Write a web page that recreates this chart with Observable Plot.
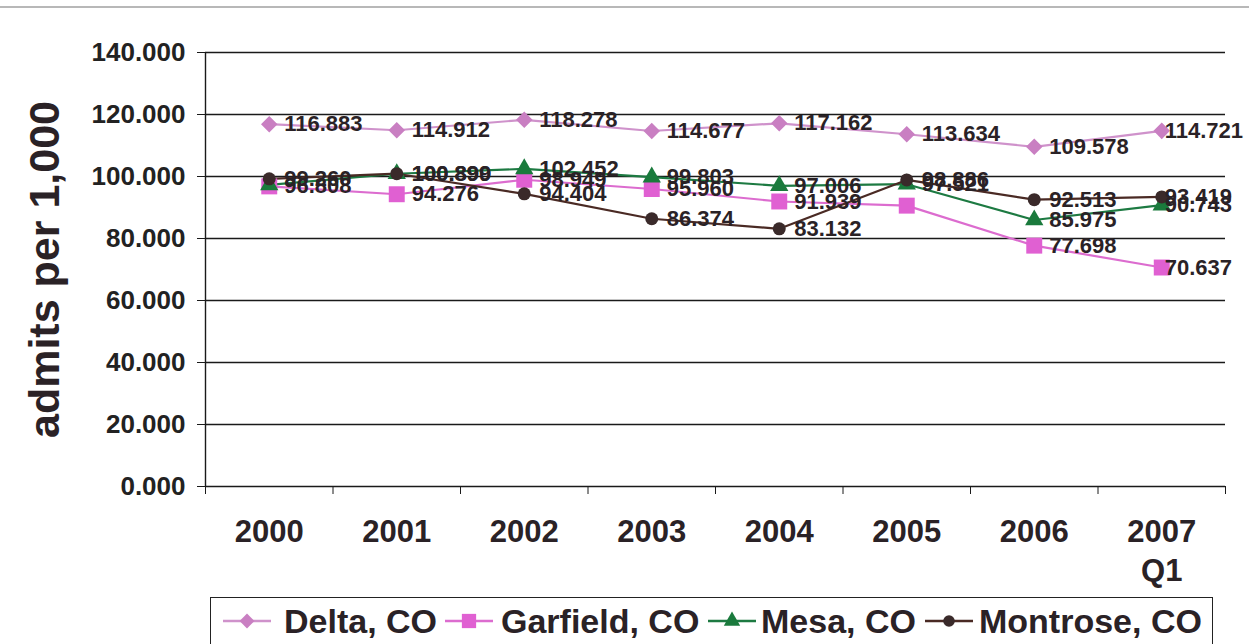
<!DOCTYPE html>
<html>
<head>
<meta charset="utf-8">
<script src="https://cdn.jsdelivr.net/npm/d3@7"></script>
<script src="https://cdn.jsdelivr.net/npm/@observablehq/plot@0.6"></script>
<style>
  html, body { margin: 0; padding: 0; background: #fff; }
  #wrap { position: relative; width: 1249px; height: 644px; overflow: hidden; font-family: "Liberation Sans", Arial, sans-serif; }
  #topline { position: absolute; left: 0; top: 6px; width: 1249px; height: 2px; background: #b8b8b8; }
  #chart { position: absolute; left: 0; top: 0; }
  #legend { position: absolute; left: 210px; top: 597px; width: 1003px; height: 60px; border: 1.5px solid #222; box-sizing: border-box; }
  .item { position: absolute; top: 0; height: 46px; display: flex; align-items: center; }
  .item span { font-family: "Liberation Sans", Arial, sans-serif; font-weight: bold; font-size: 34px; color: #2a2226; white-space: nowrap; }
</style>
</head>
<body>
<div id="wrap">
  <div id="topline"></div>
  <div id="chart"></div>
  <div id="legend"></div>
</div>
<script>
// ---- data ----
const years = ["2000", "2001", "2002", "2003", "2004", "2005", "2006", "2007\nQ1"];
const seriesNames = ["Delta, CO", "Garfield, CO", "Mesa, CO", "Montrose, CO"];
const delta    = [116.883, 114.912, 118.278, 114.677, 117.162, 113.634, 109.578, 114.721];
const garfield = [96.808, 94.276, 98.949, 95.960, 91.939, 90.600, 77.698, 70.637];
const mesa     = [97.300, 100.890, 102.452, 99.803, 97.006, 97.521, 85.975, 90.743];
const montrose = [99.260, 100.899, 94.404, 86.374, 83.132, 98.886, 92.513, 93.419];
const yTicks = [0, 20, 40, 60, 80, 100, 120, 140];
// labels not visible in the reference (hidden under other labels)
const hiddenLabels = [["Garfield, CO", 5], ["Mesa, CO", 0]];

const lineColors = ["#cf92cb", "#dc6ccf", "#1d7a42", "#4a2a24"];
const markColors = ["#c97fc2", "#e060d2", "#1a7a3c", "#3a2a2a"];

const diamondSym = {
  draw(ctx, size) {
    const h = Math.sqrt(size / 2);
    ctx.moveTo(0, -h); ctx.lineTo(h, 0); ctx.lineTo(0, h); ctx.lineTo(-h, 0); ctx.closePath();
  }
};
const symbols = [diamondSym, d3.symbolSquare, d3.symbolTriangle, d3.symbolCircle];
const sizes = [6.6, 9.0, 6.8, 6.5];

const values = [delta, garfield, mesa, montrose];
const rows = seriesNames.flatMap((s, k) => values[k].map((v, i) => ({
  series: s, k, i, value: v,
  label: hiddenLabels.some(([hs, hi]) => hs === s && hi === i) ? "" : d3.format(".3f")(v)
})));

const fmt = d3.format(".3f");

const chart = Plot.plot({
  width: 1249,
  height: 590,
  marginLeft: 205,
  marginRight: 24,
  marginTop: 52,
  marginBottom: 104,
  style: { fontFamily: "'Liberation Sans', Arial, sans-serif", color: "#222", background: "transparent" },
  x: { type: "linear", domain: [-0.5, 7.5], axis: null },
  y: { domain: [0, 140], axis: null },
  color: { domain: seriesNames, range: lineColors },
  marks: [
    Plot.ruleY(yTicks, { stroke: "#1a1a1a", strokeWidth: 1.4 }),
    Plot.ruleX([-0.5], { stroke: "#1a1a1a", strokeWidth: 1.4 }),
    Plot.axisY({ ticks: yTicks, tickFormat: fmt, tickSize: 8, tickPadding: 12, fontSize: 26, fontWeight: "bold", label: null, stroke: "#1a1a1a" }),
    Plot.axisX({ ticks: d3.range(-0.5, 8, 1), tickSize: 8, tickFormat: () => "", label: null, stroke: "#1a1a1a" }),
    Plot.text(years, { x: (d, i) => i, y: () => 0, text: d => d, dy: 28, lineAnchor: "top", lineHeight: 1.25, fontSize: 31, fontWeight: "bold", fill: "#2a2226" }),
    Plot.text(["admits per 1,000"], { frameAnchor: "left", textAnchor: "middle", dx: -160, rotate: -90, fontSize: 43, fontWeight: "bold", fill: "#2a2226" }),
    Plot.line(rows, { x: "i", y: "value", z: "series", stroke: "series", strokeWidth: 2.2 }),
    ...seriesNames.map((s, k) => Plot.dot(rows.filter(d => d.k === k), {
      x: "i", y: "value", symbol: symbols[k], r: sizes[k], fill: markColors[k], stroke: "none"
    })),
    Plot.text(rows.filter(d => d.i < 7), { x: "i", y: "value", text: "label", dx: 15, textAnchor: "start", fontSize: 22, fontWeight: "bold", fill: "#2a2226" }),
    Plot.text(rows.filter(d => d.i === 7), { x: "i", y: "value", text: "label", dx: 3, textAnchor: "start", fontSize: 22, fontWeight: "bold", fill: "#2a2226" })
  ]
});
document.getElementById("chart").appendChild(chart);

// ---- legend ----
const legendX = [[10, 73], [232, 290], [495, 550], [712, 768]];
const legend = document.getElementById("legend");
seriesNames.forEach((s, k) => {
  const [sx, tx] = legendX[k];
  const sw = d3.create("svg").attr("width", 52).attr("height", 46)
    .style("position", "absolute").style("left", sx + "px").style("top", "0px");
  sw.append("line").attr("x1", 2).attr("x2", 50).attr("y1", 23).attr("y2", 23)
    .attr("stroke", lineColors[k]).attr("stroke-width", 2.5);
  sw.append("path").attr("transform", "translate(26,23)")
    .attr("d", d3.symbol(symbols[k], Math.PI * sizes[k] * sizes[k] * 0.8)())
    .attr("fill", markColors[k]);
  legend.appendChild(sw.node());
  const it = document.createElement("div");
  it.className = "item";
  it.style.left = tx + "px";
  it.innerHTML = "<span>" + s + "</span>";
  legend.appendChild(it);
});
</script>
</body>
</html>
